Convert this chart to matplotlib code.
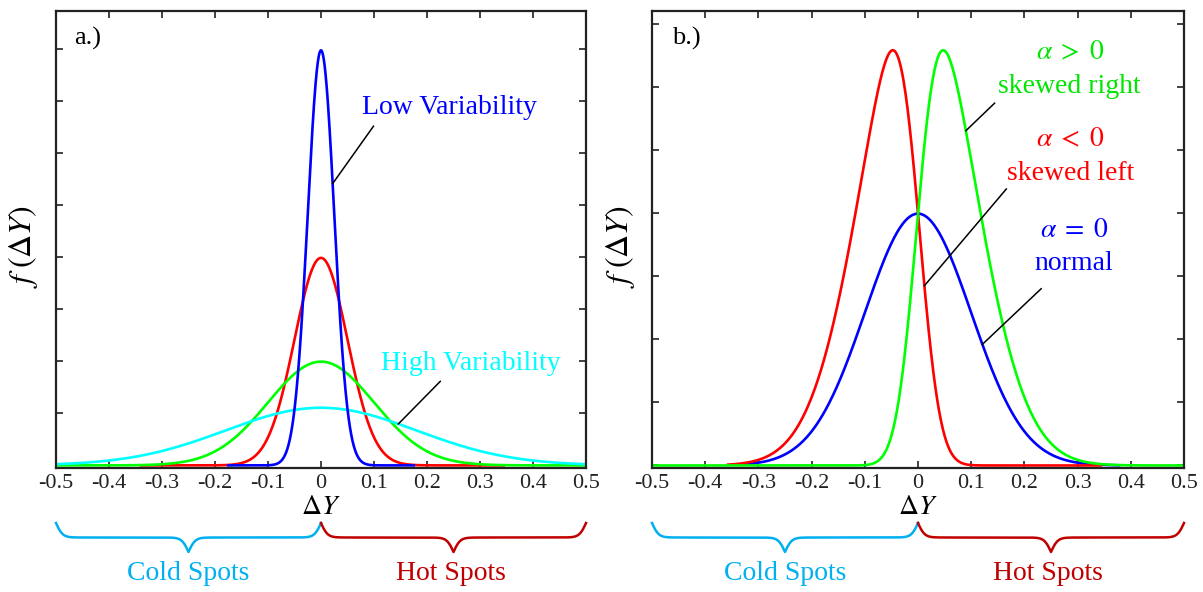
import math
import numpy as np
import matplotlib.pyplot as plt
from matplotlib.transforms import blended_transform_factory

plt.rcParams['font.family'] = ['Liberation Serif', 'DejaVu Serif']
plt.rcParams['mathtext.fontset'] = 'stix'

# shared x axis
x_ticks = [-0.5, -0.4, -0.3, -0.2, -0.1, 0, 0.1, 0.2, 0.3, 0.4, 0.5]
x_tick_labels = ['-0.5', '-0.4', '-0.3', '-0.2', '-0.1', '0', '0.1', '0.2', '0.3', '0.4', '0.5']

# panel a: normal curves centred at 0 (sigma read from peak heights / widths)
a_sigmas = [0.025, 0.05, 0.1, 0.18]
a_colors = ['#0000FF', '#FF0000', '#00FF00', '#00FFFF']
a_x_range = [(-0.175, 0.175), (-0.34, 0.345), (-0.5, 0.5), (-0.5, 0.5)]
a_draw_order = [1, 2, 3, 0]
a_yticks = [0, 2, 4, 6, 8, 10, 12, 14, 16]

# panel a labels
a_labels = ['Low Variability', 'High Variability']
a_label_colors = ['#0000FF', '#00FFFF']
a_label_pos = [(0.242, 13.75), (0.283, 3.9)]
a_line_start = [(0.099, 13.04), (0.225, 3.23)]
a_line_end_x = [0.022, 0.146]
a_line_curve = [0, 3]

# panel b: skew normal curves (shape alpha, scale omega, location 0)
b_alphas = [0, -3, 3]
b_scale = 0.1
b_colors = ['#0000FF', '#FF0000', '#00FF00']
b_x_range = [(-0.335, 0.378), (-0.357, 0.344), (-0.5, 0.5)]
b_yticks = [0, 1, 2, 3, 4, 5, 6, 7]

# panel b labels
b_texts = [r'$\alpha\;>\;0$', 'skewed right', r'$\alpha\;<\;0$', 'skewed left', r'$\alpha\;=\;0$', 'normal']
b_text_colors = ['#00E600', '#00E600', '#FF0000', '#FF0000', '#0000FF', '#0000FF']
b_text_pos = [(0.286, 6.53), (0.284, 6.0), (0.287, 5.16), (0.287, 4.62), (0.293, 3.73), (0.293, 3.2)]
b_line_start = [(0.144, 5.74), (0.166, 4.38), (0.2315, 2.80)]
b_line_end_x = [0.09, 0.012, 0.121]
b_line_curve = [2, 1, 0]

# braces under the axes
brace_spans = [(-0.5, 0.0), (0.0, 0.5)]
brace_colors = ['#00B0F0', '#C00000']
brace_texts = ['Cold Spots', 'Hot Spots']
brace_text_x = [-0.25, 0.245]

erf = np.vectorize(math.erf)


def normal_pdf(x, s):
    return np.exp(-0.5 * (x / s) ** 2) / (s * np.sqrt(2 * np.pi))


def skew_pdf(x, a, w):
    z = x / w
    phi = np.exp(-0.5 * z ** 2) / np.sqrt(2 * np.pi)
    cdf = 0.5 * (1 + erf(a * z / np.sqrt(2)))
    return 2 / w * phi * cdf


def style_axes(ax, ylim, yticks):
    ax.set_xlim(-0.5, 0.5)
    ax.set_ylim(*ylim)
    ax.set_xticks(x_ticks)
    ax.set_xticklabels(x_tick_labels)
    ax.set_yticks(yticks)
    ax.tick_params(direction='in', top=True, right=True, labelleft=False,
                   length=5, width=1.2, labelsize=16, pad=4, colors='#222222')
    for sp in ax.spines.values():
        sp.set_linewidth(1.6)
        sp.set_color('#222222')
    ax.set_xlabel(r'$\Delta Y$', fontsize=20, labelpad=2)
    ax.set_ylabel(r'$f\;(\Delta Y)$', fontsize=23)


def draw_brace(fig, ax, x0, x1, ytop, ybot, color):
    trans = blended_transform_factory(ax.transData, fig.transFigure)
    n = 401
    xs = np.linspace(x0, x1, n)
    half = xs[:n // 2 + 1]
    beta = 160.0
    yh = 1 / (1 + np.exp(-beta * (half - half[0]))) + 1 / (1 + np.exp(-beta * (half - half[-1])))
    yy = np.concatenate([yh, yh[-2::-1]])
    yy = ytop - (yy - 0.5) * (ytop - ybot)
    ax.plot(xs, yy, color=color, lw=1.8, transform=trans, clip_on=False)


fig = plt.figure(figsize=(12.03, 5.92), dpi=100)
ax1 = fig.add_axes([56 / 1203, 1 - 468 / 592, 530 / 1203, 457 / 592])
ax2 = fig.add_axes([652 / 1203, 1 - 468 / 592, 532 / 1203, 457 / 592])

# ---- panel a
for i in a_draw_order:
    x = np.linspace(a_x_range[i][0], a_x_range[i][1], 600)
    ax1.plot(x, normal_pdf(x, a_sigmas[i]), color=a_colors[i], lw=1.9)
for lab, col, pos in zip(a_labels, a_label_colors, a_label_pos):
    ax1.text(pos[0], pos[1], lab, color=col, fontsize=20, ha='center', va='center')
for st, ex, ci in zip(a_line_start, a_line_end_x, a_line_curve):
    ax1.plot([st[0], ex], [st[1], normal_pdf(ex, a_sigmas[ci])], color='black', lw=1.1)
ax1.text(-0.466, 16.4, 'a.)', fontsize=19, ha='left', va='center')
style_axes(ax1, (-0.1, 17.47), a_yticks)
ax1.yaxis.set_label_coords(-0.03, 0.484)

# ---- panel b
for i in range(len(b_alphas)):
    x = np.linspace(b_x_range[i][0], b_x_range[i][1], 600)
    ax2.plot(x, skew_pdf(x, b_alphas[i], b_scale), color=b_colors[i], lw=1.9)
for t, col, pos in zip(b_texts, b_text_colors, b_text_pos):
    ax2.text(pos[0], pos[1], t, color=col, fontsize=20, ha='center', va='center')
for st, ex, ci in zip(b_line_start, b_line_end_x, b_line_curve):
    ax2.plot([st[0], ex], [st[1], skew_pdf(ex, b_alphas[ci], b_scale)], color='black', lw=1.1)
ax2.text(-0.4615, 6.76, 'b.)', fontsize=19, ha='left', va='center')
style_axes(ax2, (-0.04, 7.2), b_yticks)
ax2.yaxis.set_label_coords(-0.029, 0.484)

# ---- braces and spot labels
for ax in (ax1, ax2):
    trans = blended_transform_factory(ax.transData, fig.transFigure)
    for span, col, txt, tx in zip(brace_spans, brace_colors, brace_texts, brace_text_x):
        draw_brace(fig, ax, span[0], span[1], 1 - 523 / 592, 1 - 552 / 592, col)
        ax.text(tx, 1 - 573 / 592, txt, color=col, fontsize=20, ha='center', va='center',
                transform=trans)

fig.savefig('out.png', dpi=100)
